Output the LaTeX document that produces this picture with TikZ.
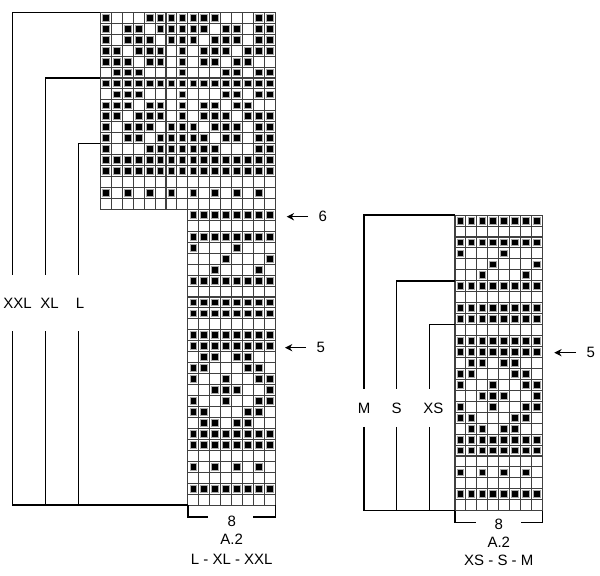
\documentclass[tikz,border=0pt]{standalone}
\usepackage{fontspec}
\setmainfont{Liberation Sans}
\usepackage{tikz}
\usetikzlibrary{arrows.meta}

\newcommand{\cellw}{10.95}
% rows of the wide part of A.2 (L - XL - XXL), 1 = filled stitch
\newcommand{\widerows}{%
{1,0,0,0,1,1,1,1,1,1,1,0,0,0,1,1},
{1,0,1,1,0,1,1,1,1,1,0,1,1,0,1,1},
{1,0,1,1,1,0,1,1,1,0,1,1,1,0,1,1},
{1,1,0,1,1,1,0,1,0,1,1,1,0,1,1,1},
{1,1,1,0,1,1,0,1,0,1,1,0,1,1,0,0},
{0,1,1,1,0,0,0,1,0,0,0,1,1,0,1,1},
{1,1,1,1,1,1,1,1,1,1,1,1,1,1,1,1},
{0,1,1,1,0,0,0,1,0,0,0,1,1,0,1,1},
{1,1,1,0,1,1,0,1,0,1,1,0,1,1,0,0},
{1,1,0,1,1,1,0,1,0,1,1,1,0,1,1,1},
{1,0,1,1,1,0,1,1,1,0,1,1,1,0,1,1},
{1,0,1,1,0,1,1,1,1,1,0,1,1,0,1,1},
{1,0,0,0,1,1,1,1,1,1,1,0,0,0,1,1},
{1,1,1,1,1,1,1,1,1,1,1,1,1,1,1,1},
{1,1,1,1,1,1,1,1,1,1,1,1,1,1,1,1},
{0,0,0,0,0,0,0,0,0,0,0,0,0,0,0,0},
{1,0,1,0,1,0,1,0,1,0,1,0,1,0,1,0},
{0,0,0,0,0,0,0,0,0,0,0,0,0,0,0,0}}
% rows of the 8 stitch part (both charts)
\newcommand{\narrowrows}{%
{1,1,1,1,1,1,1,1},
{0,0,0,0,0,0,0,0},
{1,1,1,1,1,1,1,1},
{1,0,0,0,1,0,0,0},
{0,0,0,1,0,0,0,1},
{0,0,1,0,0,0,1,0},
{1,1,1,1,1,1,1,1},
{0,0,0,0,0,0,0,0},
{1,1,1,1,1,1,1,1},
{1,1,1,1,1,1,1,1},
{0,0,0,0,0,0,0,0},
{1,1,1,1,1,1,1,1},
{1,1,1,1,1,1,1,1},
{0,1,1,0,1,1,0,0},
{1,1,0,0,0,1,1,0},
{1,0,0,1,0,0,1,1},
{0,0,1,1,1,0,0,1},
{1,0,0,1,0,0,1,1},
{1,1,0,0,0,1,1,0},
{0,1,1,0,1,1,0,0},
{1,1,1,1,1,1,1,1},
{1,1,1,1,1,1,1,1},
{0,0,0,0,0,0,0,0},
{1,0,1,0,1,0,1,0},
{0,0,0,0,0,0,0,0},
{1,1,1,1,1,1,1,1},
{0,0,0,0,0,0,0,0}}
% #1,#2 top left corner, #3 list of rows
\newcommand{\knitchart}[3]{%
  \foreach \row [count=\rw] in #3 {
    \foreach \v [count=\col] in \row {
      \draw[cell] ({#1+(\col-1)*\cellw},{#2+(\rw-1)*\cellw}) rectangle ++(\cellw,\cellw);
      \ifnum\v=1\relax
        \path[stitch] ({#1+(\col-0.5)*\cellw},{#2+(\rw-0.5)*\cellw}) +(-3.4,-3.4) rectangle +(3.4,3.4);
      \fi
    }
  }}

\begin{document}
\begin{tikzpicture}[x=0.75pt,y=0.75pt,yscale=-1,xscale=1,
  font={\fontsize{11.25}{13.5}\selectfont},
  cell/.style={draw=black!75, line width=0.8pt},
  stitch/.style={fill=black, draw=black!35, line width=0.7pt},
  sizeline/.style={line width=1.1pt},
  sizelabel/.style={inner sep=0pt},
  rowlabel/.style={inner sep=0pt, outer xsep=7.8pt},
  rowarrow/.style={line width=1.1pt, -{Stealth[length=5.5pt,width=5.5pt]}}]
\useasboundingbox (0,0) rectangle (600,575);

%Shape: Grid A.2 L - XL - XXL
\knitchart{100.3}{12.3}{\widerows}
\knitchart{187.9}{209.4}{\narrowrows}
%Shape: Grid A.2 XS - S - M
\knitchart{455}{215.1}{\narrowrows}

% corners of the charts
\coordinate (bigNW) at (100.3,12.3);
\coordinate (xlcorner) at (100.3,78);
\coordinate (lcorner) at (100.3,143.7);
\coordinate (bigSW) at (187.9,505.05);
\coordinate (bigSE) at (275.5,505.05);
\coordinate (smallNW) at (455,215.1);
\coordinate (scorner) at (455,280.8);
\coordinate (xscorner) at (455,324.6);
\coordinate (smallSW) at (455,510.75);
\coordinate (smallSE) at (542.6,510.75);

% Text Node
\node[sizelabel, minimum height=42pt] (xxlsize) at (17.5,303) {XXL};
\node[sizelabel, minimum height=42pt] (xlsize) at (49.5,303) {XL};
\node[sizelabel, minimum height=42pt] (lsize) at (80,303) {L};
\node[sizelabel, minimum height=28pt] (msize) at (364,408) {M};
\node[sizelabel, minimum height=28pt] (ssize) at (396.7,408) {S};
\node[sizelabel, minimum height=28pt] (xssize) at (433.3,408) {XS};

%Straight Lines size XXL, XL, L
\coordinate (xxlline) at (12.7,303);
\coordinate (xlline) at (45.3,303);
\coordinate (lline) at (78.3,303);
\draw[sizeline] (bigNW) -| (xxlline |- xxlsize.north);
\draw[sizeline] (xxlline |- xxlsize.south) |- (bigSW);
\draw[sizeline] (xlcorner) -| (xlline |- xlsize.north);
\draw[sizeline] (xlline |- xlsize.south) -- (xlline |- bigSW);
\draw[sizeline] (lcorner) -| (lline |- lsize.north);
\draw[sizeline] (lline |- lsize.south) -- (lline |- bigSW);

%Straight Lines size M, S, XS
\coordinate (mline) at (364,408);
\coordinate (sline) at (396.7,408);
\coordinate (xsline) at (429.3,408);
\draw[sizeline] (smallNW) -| (mline |- msize.north);
\draw[sizeline] (mline |- msize.south) |- (smallSW);
\draw[sizeline] (scorner) -| (sline |- ssize.north);
\draw[sizeline] (sline |- ssize.south) -- (sline |- smallSW);
\draw[sizeline] (xscorner) -| (xsline |- xssize.north);
\draw[sizeline] (xsline |- xssize.south) -- (xsline |- smallSW);

%Straight Lines brackets under the charts
\coordinate (bigbrkw) at (208,517);
\coordinate (bigbrke) at (253,517);
\draw[sizeline] (bigSW) |- (bigbrkw);
\draw[sizeline] (bigSE) |- (bigbrke);
\coordinate (smallbrkw) at (476,522.3);
\coordinate (smallbrke) at (520.7,522.3);
\draw[sizeline] (smallSW) |- (smallbrkw);
\draw[sizeline] (smallSE) |- (smallbrke);

% Text Node
\node (bigcount) at (231.7,521.5) {8};
\node (bigname) at (231.7,539.5) {A.2};
\node (bigsizes) at (231.7,559) {L - XL - XXL};
\node (smallcount) at (498.8,524.5) {8};
\node (smallname) at (498.8,542.5) {A.2};
\node (smallsizes) at (498.8,560) {XS - S - M};

%Straight Lines arrows to the rows
\node[rowlabel] (bigrow6) at (322.7,216.7) {6};
\coordinate (bigrow6tip) at (286.7,216.7);
\draw[rowarrow] (bigrow6) -- (bigrow6tip);
\node[rowlabel] (bigrow5) at (320.7,347.7) {5};
\coordinate (bigrow5tip) at (285,347.7);
\draw[rowarrow] (bigrow5) -- (bigrow5tip);
\node[rowlabel] (smallrow5) at (590.7,352.7) {5};
\coordinate (smallrow5tip) at (554.3,352.7);
\draw[rowarrow] (smallrow5) -- (smallrow5tip);

\end{tikzpicture}
\end{document}
